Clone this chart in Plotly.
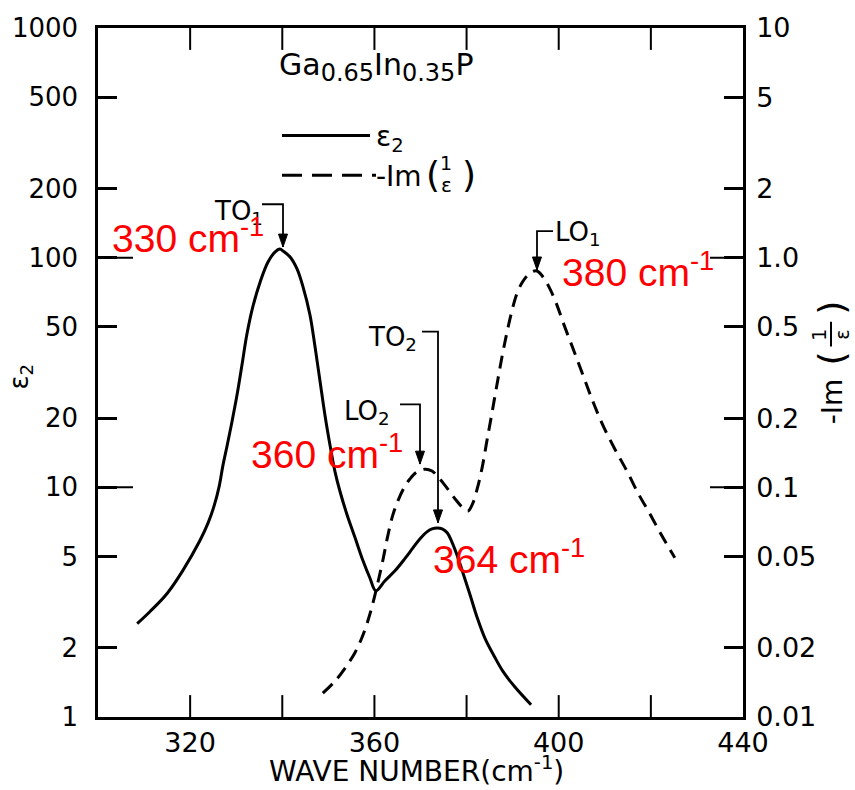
import plotly.graph_objects as go

# ---------------- data ----------------
wn_eps2 = [308.5, 311.3, 315.0, 318.4, 322.1, 323.9, 325.2, 326.3, 327.1, 328.0,
           329.1, 330.2, 331.3, 332.3, 333.6, 335.2, 336.9, 338.4, 339.5, 340.2,
           341.7, 343.2, 344.5, 346.0, 347.1, 348.2, 349.3, 350.4, 351.4, 352.5,
           354.0, 355.8, 357.5, 359.0, 360.3, 362.3, 364.5, 366.6, 368.4, 369.9,
           371.4, 372.5, 373.6, 374.7, 375.8, 376.8, 377.9, 379.2, 380.8, 382.3,
           384.0, 386.0, 387.9, 390.5, 394.0]
eps2 = [2.55, 2.88, 3.45, 4.34, 5.85, 7.0, 8.3, 10.1, 12.4, 15.1,
        19.4, 25.4, 34.6, 46.2, 61.1, 78.4, 95.7, 105.7, 109, 106.8,
        100.6, 89.3, 74.6, 56.4, 41.0, 28.9, 20.4, 15.1, 11.8, 9.64,
        7.66, 6.03, 4.80, 4.04, 3.55, 3.92, 4.34, 4.89, 5.46, 5.97,
        6.40, 6.59, 6.66, 6.60, 6.34, 5.79, 5.09, 4.25, 3.38, 2.71,
        2.20, 1.84, 1.58, 1.35, 1.13]

wn_loss = [348.8, 351.4, 353.6, 355.8, 357.3, 358.6, 359.7, 360.8, 361.9, 362.9,
           364.0, 365.1, 366.4, 367.7, 369.2, 371.0, 372.5, 373.8, 375.1, 376.4,
           377.7, 379.0, 380.3, 381.2, 382.3, 383.4, 384.4, 385.5, 386.6, 387.7,
           388.8, 389.9, 390.9, 392.0, 393.1, 394.2, 395.3, 396.6, 398.1, 399.6,
           400.9, 403.1, 405.3, 407.4, 409.6, 412.2, 414.8, 417.2, 419.8, 422.4,
           425.2]
loss = [0.0127, 0.0143, 0.0163, 0.0191, 0.0222, 0.0263, 0.0315, 0.0389, 0.0489, 0.0615,
        0.0759, 0.0873, 0.0993, 0.1087, 0.1165, 0.120, 0.1178, 0.1109, 0.1033, 0.0955,
        0.0881, 0.0822, 0.0789, 0.0838, 0.0984, 0.1225, 0.1588, 0.210, 0.2805, 0.371,
        0.476, 0.593, 0.695, 0.776, 0.832, 0.867, 0.875, 0.824, 0.731, 0.623,
        0.526, 0.402, 0.307, 0.237, 0.186, 0.1466, 0.1178, 0.0945, 0.0766, 0.0615,
        0.0494]

x_tickvals = [300, 320, 340, 360, 380, 400, 420, 440]
x_ticktext = ["", "320", "", "360", "", "400", "", "440"]
yl_tickvals = [1, 2, 5, 10, 20, 50, 100, 200, 500, 1000]
yl_ticktext = ["1", "2", "5", "10", "20", "50", "100", "200", "500", "1000"]
yr_tickvals = [0.01, 0.02, 0.05, 0.1, 0.2, 0.5, 1, 2, 5, 10]
yr_ticktext = ["0.01", "0.02", "0.05", "0.1", "0.2", "0.5", "1.0", "2", "5", "10"]

# ---------------- layout geometry ----------------
W, H = 855, 790
L, R, T, B = 98, 743, 25, 717


def px(x):
    return (x - L) / (R - L)


def py(y):
    return (B - y) / (B - T)


BLACK_FONT = "DejaVu Sans"
RED_FONT = "Liberation Sans, Arial"

fig = go.Figure()
fig.add_trace(go.Scatter(x=wn_eps2, y=eps2, mode="lines", yaxis="y",
                         line=dict(color="black", width=3, shape="spline", smoothing=1.0),
                         showlegend=False, hoverinfo="skip"))
fig.add_trace(go.Scatter(x=wn_loss, y=loss, mode="lines", yaxis="y2",
                         line=dict(color="black", width=3, dash="13px,8px", shape="spline", smoothing=1.0),
                         showlegend=False, hoverinfo="skip"))

shapes = []
ann = []

# long decade ticks on both vertical axes
for k in range(1, 3):
    shapes.append(dict(type="line", xref="paper", yref="paper", x0=0, x1=35 / (R - L),
                       y0=k / 3, y1=k / 3, line=dict(color="black", width=2)))
    shapes.append(dict(type="line", xref="paper", yref="paper", x0=1 - 33 / (R - L), x1=1,
                       y0=k / 3, y1=k / 3, line=dict(color="black", width=2)))

# inward x ticks, bottom and top
for v in x_tickvals[1:-1]:
    shapes.append(dict(type="line", xref="x", yref="paper", x0=v, x1=v,
                       y0=0, y1=22 / (B - T), line=dict(color="black", width=2)))
    shapes.append(dict(type="line", xref="x", yref="paper", x0=v, x1=v,
                       y0=1, y1=1 - 22 / (B - T), line=dict(color="black", width=2)))


def path_px(points):
    return "M " + " L ".join(f"{px(a):.5f},{py(b):.5f}" for a, b in points)


def bracket(points):
    shapes.append(dict(type="path", xref="paper", yref="paper", path=path_px(points),
                       line=dict(color="black", width=1.8)))
    xt, yt = points[-1]
    tri = path_px([(xt - 4.5, yt - 13), (xt + 4.5, yt - 13), (xt, yt)]) + " Z"
    shapes.append(dict(type="path", xref="paper", yref="paper", path=tri,
                       fillcolor="black", line=dict(color="black", width=1)))


bracket([(262, 202), (283, 202), (283, 245)])   # TO1
bracket([(422, 330), (438, 330), (438, 522)])   # TO2
bracket([(400, 403), (420, 403), (420, 463)])   # LO2
bracket([(553, 229), (537, 229), (537, 268)])   # LO1


def text(x, y, s, size, font=BLACK_FONT, color="black", xanchor="left", angle=0, yanchor="middle"):
    ann.append(dict(x=px(x), y=py(y), xref="paper", yref="paper", text=s, showarrow=False,
                    xanchor=xanchor, yanchor=yanchor, textangle=angle,
                    font=dict(family=font, size=size, color=color)))


SUBSTYLE = '<span style="font-size:24px">'

# black labels
text(212, 210, "TO<sub>1</sub>", 26)
text(366, 337, "TO<sub>2</sub>", 26)
text(342, 411, "LO<sub>2</sub>", 26)
text(553, 231, "LO<sub>1</sub>", 26)

# title
text(376, 64, "Ga<sub>" + SUBSTYLE + "0.65</span></sub>In<sub>" + SUBSTYLE + "0.35</span></sub>P",
     30, xanchor="center")

# legend
shapes.append(dict(type="line", xref="paper", yref="paper", x0=px(282), x1=px(370),
                   y0=py(133), y1=py(133), line=dict(color="black", width=3)))
shapes.append(dict(type="line", xref="paper", yref="paper", x0=px(282), x1=px(376),
                   y0=py(173), y1=py(173), line=dict(color="black", width=3, dash="20px,10px")))
text(374, 136, "ε<sub>2</sub>", 28)
text(374, 174, "-Im", 28)
text(424, 172, "(", 36)
text(446, 161, "1", 19, xanchor="center")
text(446, 183, "ε", 20, xanchor="center")
text(460, 172, ")", 36)

# axis titles
text(416, 790, "WAVE NUMBER(cm<sup>-1</sup>)", 28, xanchor="center", yanchor="bottom")
text(20, 375, "ε<sub>2</sub>", 26, xanchor="center", angle=-90)
text(832, 400, "-Im", 28, xanchor="center", angle=-90)
text(832, 357, "(", 36, xanchor="center", angle=-90)
text(819, 333, "1", 19, xanchor="center", angle=-90)
shapes.append(dict(type="line", xref="paper", yref="paper", x0=px(831), x1=px(831),
                   y0=py(320), y1=py(345), line=dict(color="black", width=2)))
text(842, 333, "ε", 19, xanchor="center", angle=-90)
text(832, 306, ")", 36, xanchor="center", angle=-90)

# red labels
text(110, 233, "330 cm<sup>-1</sup>", 39, font=RED_FONT, color="red")
text(249, 450, "360 cm<sup>-1</sup>", 39, font=RED_FONT, color="red")
text(431, 556, "364 cm<sup>-1</sup>", 39, font=RED_FONT, color="red")
text(560, 268, "380 cm<sup>-1</sup>", 39, font=RED_FONT, color="red")

axis_common = dict(showgrid=False, zeroline=False, linecolor="black", linewidth=2.5,
                   tickcolor="black", tickwidth=2.5)

fig.update_layout(
    width=W, height=H, autosize=False,
    margin=dict(l=L, r=W - R, t=T, b=H - B, pad=0),
    paper_bgcolor="white", plot_bgcolor="white",
    showlegend=False,
    xaxis=dict(range=[300, 440], tickvals=x_tickvals, ticktext=x_ticktext,
               ticks="", mirror=True, showline=True,
               tickfont=dict(family=BLACK_FONT, size=27, color="black"),
               ticklabelstandoff=0, **axis_common),
    yaxis=dict(type="log", range=[0, 3], tickvals=yl_tickvals, ticktext=yl_ticktext,
               ticks="inside", ticklen=19, showline=True,
               tickfont=dict(family=BLACK_FONT, size=26, color="black"),
               ticklabelstandoff=12, **axis_common),
    yaxis2=dict(type="log", range=[-2, 1], overlaying="y", side="right",
                tickvals=yr_tickvals, ticktext=yr_ticktext, ticks="inside", ticklen=19,
                showline=True,
                tickfont=dict(family=BLACK_FONT, size=27, color="black"),
                ticklabelstandoff=5, **axis_common),
    shapes=shapes,
    annotations=ann,
)

fig.write_html("out.html")
